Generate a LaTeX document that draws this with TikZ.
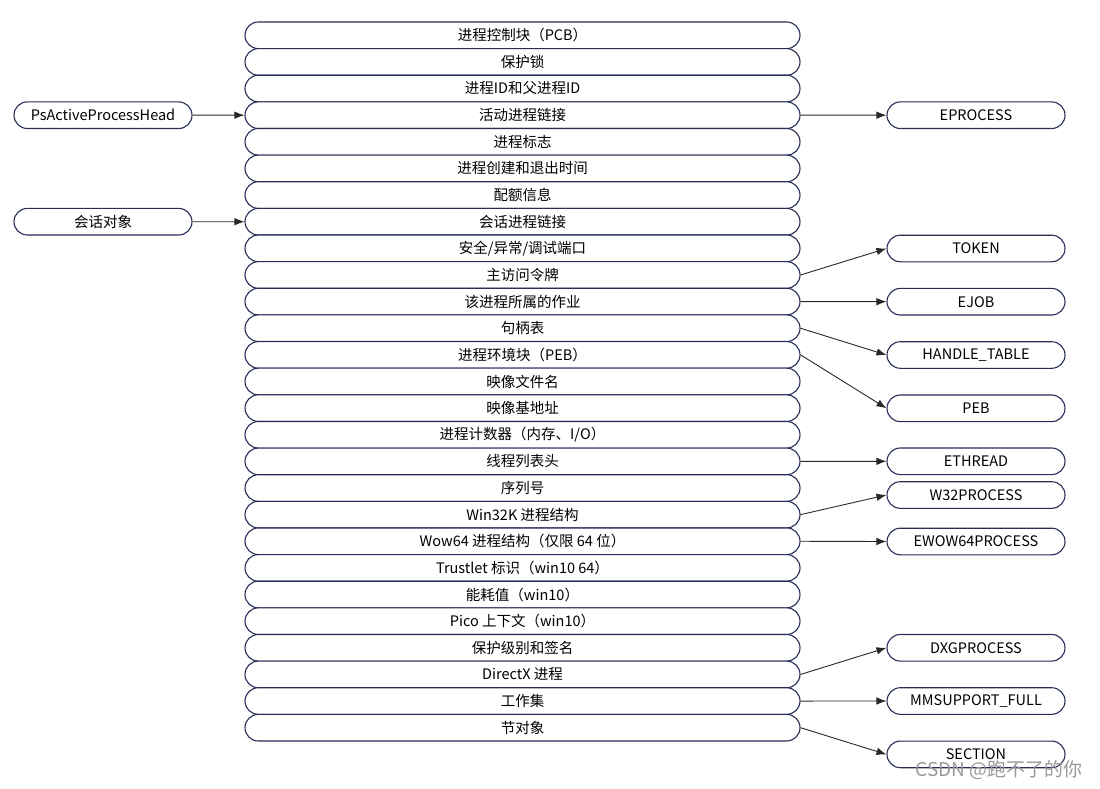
\documentclass[tikz,border=0pt]{standalone}
\usepackage{fontspec}
\setmainfont{Noto Sans CJK SC}
\usetikzlibrary{shapes.misc}
\usetikzlibrary{arrows.meta}

\definecolor{boxline}{RGB}{38,46,86}
\definecolor{linkline}{RGB}{40,40,40}

\tikzset{
  field/.style={rounded rectangle, draw=boxline, line width=1.1pt, fill=white,
    minimum width=555pt, minimum height=26.6pt, inner sep=0pt,
    font=\fontsize{14.5}{16}\selectfont},
  ext/.style={field, minimum width=178pt},
  link/.style={-{Latex[length=10pt,width=7.5pt]}, line width=0.9pt, draw=linkline},
}

\begin{document}
\begin{tikzpicture}[x=1pt,y=-1pt]
  \useasboundingbox (0,0) rectangle (1100,789);

  % EPROCESS fields
  \foreach \txt [count=\i from 0] in {进程控制块（PCB）, 保护锁, 进程ID和父进程ID,
      活动进程链接, 进程标志, 进程创建和退出时间, 配额信息, 会话进程链接,
      安全/异常/调试端口, 主访问令牌, 该进程所属的作业, 句柄表, 进程环境块（PEB）,
      映像文件名, 映像基地址, 进程计数器（内存、I/O）, 线程列表头, 序列号,
      Win32K 进程结构, Wow64 进程结构（仅限 64 位）, Trustlet 标识（win10 64）,
      能耗值（win10）, Pico 上下文（win10）, 保护级别和签名, DirectX 进程,
      工作集, 节对象}
    \node[field] (r\i) at (522.5, {35.3+26.63*\i}) {\txt};

  % left side
  \node[ext] (pshead) at (103, 115.2) {PsActiveProcessHead};
  \node[ext] (session) at (103, 221.7) {会话对象};

  % right side
  \node[ext] (eprocess) at (976, 115.2) {EPROCESS};
  \node[ext] (token) at (976, 248.5) {TOKEN};
  \node[ext] (ejob) at (976, 301.7) {EJOB};
  \node[ext] (handletable) at (976, 355) {HANDLE\_TABLE};
  \node[ext] (peb) at (976, 408.3) {PEB};
  \node[ext] (ethread) at (976, 461.3) {ETHREAD};
  \node[ext] (w32process) at (976, 495) {W32PROCESS};
  \node[ext] (ewow64) at (976, 541.5) {EWOW64PROCESS};
  \node[ext] (dxgprocess) at (976, 647.8) {DXGPROCESS};
  \node[ext] (mmsupport) at (976, 701) {MMSUPPORT\_FULL};
  \node[ext] (section) at (976, 754.4) {SECTION};

  % links
  \draw[link] (pshead.east) -- (r3.west);
  \draw[link] (session.east) -- (r7.west);
  \draw[link] (r3.east) -- (eprocess.west);
  \draw[link] (r9.east) -- (token.west);
  \draw[link] (r10.east) -- (ejob.west);
  \draw[link] (r11.east) -- (handletable.west);
  \draw[link] (r12.east) -- (peb.west);
  \draw[link] (r16.east) -- (ethread.west);
  \draw[link] (r18.east) -- (w32process.west);
  \draw[link] (r19.east) -- (ewow64.west);
  \draw[link] (r24.east) -- (dxgprocess.west);
  \draw[link] (r25.east) -- (mmsupport.west);
  \draw[link] (r26.east) -- (section.west);

  % watermark
  \node[text=black!40, font=\fontsize{19}{21}\selectfont] (watermark) at (999, 770) {CSDN @跑不了的你};
\end{tikzpicture}
\end{document}
